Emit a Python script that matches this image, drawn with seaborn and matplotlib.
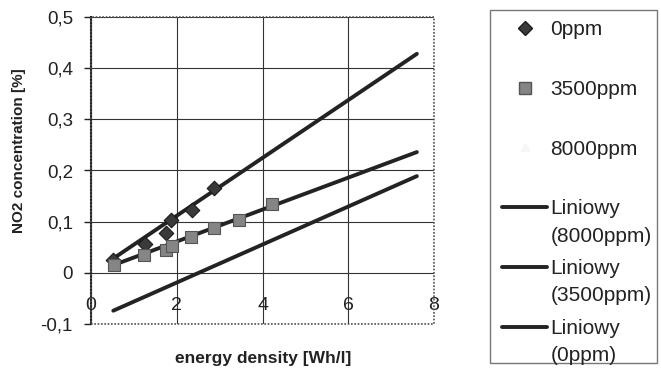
import numpy as np
import pandas as pd
import matplotlib
matplotlib.use("Agg")
import matplotlib.pyplot as plt
import seaborn as sns
from matplotlib.lines import Line2D
from matplotlib.patches import Rectangle
from matplotlib.ticker import FuncFormatter

sns.set_theme(style="white")
plt.rcParams['font.family'] = ['Liberation Sans', 'DejaVu Sans']

# ---- data ----
x_0ppm = [0.52, 1.26, 1.75, 1.86, 2.35, 2.88]
y_0ppm = [0.025, 0.057, 0.077, 0.103, 0.122, 0.165]

x_3500ppm = [0.54, 1.24, 1.75, 1.90, 2.33, 2.88, 3.46, 4.23]
y_3500ppm = [0.015, 0.035, 0.044, 0.052, 0.070, 0.087, 0.103, 0.134]

trend_x = [0.52, 7.6]
trend_0ppm = [0.028, 0.428]
trend_3500ppm = [0.015, 0.236]
trend_8000ppm = [-0.074, 0.189]

x_ticks = [0, 2, 4, 6, 8]
y_ticks = [-0.1, 0, 0.1, 0.2, 0.3, 0.4, 0.5]

legend_first = ["0ppm", "3500ppm", "8000ppm", "Liniowy", "Liniowy", "Liniowy"]
legend_second = ["", "", "", "(8000ppm)", "(3500ppm)", "(0ppm)"]

pts0 = pd.DataFrame({"x": x_0ppm, "y": y_0ppm})
pts35 = pd.DataFrame({"x": x_3500ppm, "y": y_3500ppm})
trend = pd.DataFrame({
    "x": trend_x * 3,
    "y": trend_0ppm + trend_3500ppm + trend_8000ppm,
    "s": ["0"] * 2 + ["3500"] * 2 + ["8000"] * 2,
})

W, H = 661, 372
fig = plt.figure(figsize=(W / 100, H / 100), dpi=100)
ax = fig.add_axes([91 / W, 1 - 324 / H, 343 / W, 307 / H])

line_col = "#232323"
txt_col = "#222222"
sns.lineplot(data=trend, x="x", y="y", units="s", estimator=None,
             color=line_col, lw=2.8, ax=ax, legend=False, zorder=3,
             solid_capstyle="round")
sns.scatterplot(data=pts0, x="x", y="y", marker="D", s=55, color="#3a3a3a",
                edgecolor="#1a1a1a", linewidth=0.8, ax=ax, zorder=4, legend=False)
sns.scatterplot(data=pts35, x="x", y="y", marker="s", s=85, color="#858585",
                edgecolor="#555555", linewidth=0.8, ax=ax, zorder=4, legend=False)

ax.set_xlim(0, 8)
ax.set_ylim(-0.1, 0.5)
ax.set_xticks(x_ticks)
ax.set_yticks(y_ticks)
ax.yaxis.set_major_formatter(FuncFormatter(lambda v, p: ("%g" % round(v, 2)).replace(".", ",")))
ax.grid(True, color="#333333", lw=0.8)
ax.set_axisbelow(True)

for s in ["top", "right", "bottom"]:
    ax.spines[s].set_visible(False)
ax.spines["bottom"].set_position(("data", 0))
ax.spines["left"].set_color("#222222")
ax.spines["left"].set_linewidth(1.5)
ax.tick_params(axis="x", length=0, pad=17.5, labelsize=14, colors=txt_col)
ax.tick_params(axis="y", length=5, width=1, direction="out", left=True,
               pad=8, labelsize=13.5, colors=txt_col)
ax.add_patch(Rectangle((0, 0), 1, 1, transform=ax.transAxes, fill=False,
                       ec="#555555", lw=1.2, ls=(0, (1, 1)), zorder=5, clip_on=False))

ax.set_xlabel("")
ax.set_ylabel("NO2 concentration [%]", fontsize=11, fontweight="bold", color=txt_col)
ax.yaxis.set_label_coords(-0.19, 0.565)
fig.text(263 / W, 1 - 358 / H, "energy density [Wh/l]", ha="center", va="center",
         fontsize=12.5, fontweight="bold", color=txt_col)

# legend
fig.add_artist(Rectangle((490 / W, 1 - 363 / H), 167 / W, 353 / H,
                         transform=fig.transFigure, fill=False, ec="#777777", lw=1.0))
handles = [
    Line2D([], [], ls="none", marker="D", ms=7, mfc="#3a3a3a", mec="#1a1a1a"),
    Line2D([], [], ls="none", marker="s", ms=8, mfc="#858585", mec="#555555"),
    Line2D([], [], ls="none", marker="^", ms=6, mfc="#f6f6f6", mec="#f6f6f6"),
    Line2D([], [], color=line_col, lw=2.8),
    Line2D([], [], color=line_col, lw=2.8),
    Line2D([], [], color=line_col, lw=2.8),
]
fs_leg = 15
leg = fig.legend(handles, legend_first, loc="upper left",
                 bbox_to_anchor=(502 / W, 1 - 20 / H), frameon=False,
                 fontsize=fs_leg, labelspacing=1.96, handlelength=2.17,
                 handletextpad=0.15, borderpad=0, borderaxespad=0)
for t in leg.get_texts():
    t.set_color(txt_col)

fig.canvas.draw()
for t, extra in zip(leg.get_texts(), legend_second):
    if extra:
        bb = t.get_window_extent()
        fig.text(bb.x0 / W, (bb.y0 + bb.y1) / 2 / H - 27 / H, extra, ha="left",
                 va="center", fontsize=fs_leg, color=txt_col)

fig.savefig("out.png", dpi=100)
